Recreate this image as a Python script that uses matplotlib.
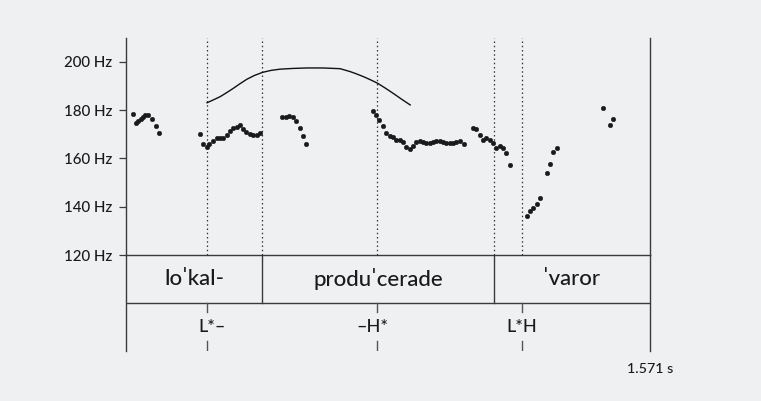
import matplotlib
matplotlib.use("Agg")
import matplotlib.pyplot as plt
from matplotlib.transforms import offset_copy

# ---------------- data ----------------
f0_t = [0.020, 0.030, 0.037, 0.045, 0.051, 0.058, 0.067, 0.078, 0.090, 0.100,
        0.222, 0.232, 0.242, 0.250, 0.262, 0.272, 0.282, 0.292, 0.302, 0.312,
        0.322, 0.332, 0.342, 0.350, 0.360, 0.372, 0.382, 0.392, 0.402,
        0.468, 0.479, 0.490, 0.501, 0.511, 0.521, 0.531, 0.540,
        0.740, 0.750, 0.760, 0.770, 0.780, 0.790, 0.800, 0.810, 0.820, 0.830,
        0.840, 0.850, 0.860, 0.870, 0.880, 0.890, 0.900, 0.910, 0.920, 0.930,
        0.940, 0.950, 0.960, 0.970, 0.980, 0.990, 1.000, 1.012,
        1.040, 1.050, 1.060, 1.070, 1.080, 1.090, 1.100, 1.110, 1.120, 1.130,
        1.140, 1.150,
        1.201, 1.211, 1.221, 1.232, 1.240, 1.261, 1.271, 1.281, 1.291,
        1.430, 1.451, 1.461]
f0_hz = [178.4, 174.8, 175.3, 176.2, 177.1, 177.9, 177.9, 176.3, 173.4, 170.6,
         170.1, 165.8, 164.8, 165.8, 167.2, 168.3, 168.5, 168.5, 169.7, 171.3,
         172.4, 173.1, 173.8, 172.1, 171.0, 170.1, 169.7, 169.7, 170.4,
         177.2, 177.1, 177.7, 177.1, 175.5, 172.7, 169.2, 166.1,
         179.7, 177.8, 175.9, 173.5, 170.5, 169.2, 169.0, 167.5, 167.6, 166.9,
         164.8, 163.7, 165.1, 166.9, 167.3, 166.8, 166.2, 166.2, 166.8, 167.3,
         167.1, 166.6, 166.5, 166.2, 166.5, 166.8, 167.1, 166.1,
         172.4, 172.2, 169.6, 167.4, 168.3, 167.6, 166.2, 164.4, 165.3, 164.1,
         162.1, 157.4,
         136.3, 138.2, 139.4, 140.9, 143.7, 153.8, 157.5, 162.5, 164.1,
         180.8, 173.7, 176.4]

contour_t = [0.243, 0.262, 0.282, 0.302, 0.322, 0.342, 0.362, 0.385, 0.410,
             0.435, 0.462, 0.500, 0.542, 0.590, 0.642, 0.672, 0.692, 0.712,
             0.733, 0.754, 0.777, 0.801, 0.826, 0.852]
contour_hz = [183.0, 184.2, 185.5, 187.2, 189.0, 190.9, 192.7, 194.3, 195.6,
              196.4, 196.9, 197.2, 197.4, 197.4, 197.1, 195.9, 194.9, 193.8,
              192.5, 191.1, 189.1, 186.9, 184.5, 182.1]

word_labels = ["lo\u02c8kal-", "produ\u02c8cerade", "\u02c8varor"]
word_bounds = [0.0, 0.409, 1.103, 1.571]

tone_labels = ["L*\u2013", "\u2013H*", "L*H"]
tone_times = [0.243, 0.754, 1.187]

yticks = [120, 140, 160, 180, 200]
ytick_labels = ["120 Hz", "140 Hz", "160 Hz", "180 Hz", "200 Hz"]
t_end = 1.571
y_min, y_max = 120, 209.8

# ---------------- style ----------------
BG = "#eff0f2"
INK = "#1a1a1a"
LINE = "#3a3a3a"
FONT = ["Lato", "DejaVu Sans"]
plt.rcParams["font.family"] = FONT

W, H = 761, 401
fig = plt.figure(figsize=(W / 100, H / 100), dpi=100, facecolor=BG)

x0, x1 = 126, 650
yp_top, yp_bot = 38, 255
yt_bot = 350.5

ax = fig.add_axes([x0 / W, (H - yp_bot) / H, (x1 - x0) / W, (yp_bot - yp_top) / H])
ax.set_facecolor(BG)
ax.set_xlim(0, t_end)
ax.set_ylim(y_min, y_max)
ax.spines["top"].set_visible(False)
for s in ["left", "right", "bottom"]:
    ax.spines[s].set_color(LINE)
    ax.spines[s].set_linewidth(1.0)
ax.set_xticks([])
ax.set_yticks(yticks)
ax.set_yticklabels(ytick_labels, fontsize=10.8, color=INK, fontweight="medium")
ax.tick_params(axis="y", direction="out", length=5, width=0.9, color=LINE, pad=5)

# dotted lines at boundaries and tones
for tv in sorted(set(word_bounds[1:-1] + tone_times)):
    ax.axvline(tv, color="#333333", lw=0.9, ls=(0, (1.2, 2.2)), zorder=1)

ax.plot(contour_t, contour_hz, color="#111111", lw=1.0, zorder=3)
ax.plot(f0_t, f0_hz, ls="none", marker="o", ms=3.3, mfc=INK, mec=INK, mew=0.3, zorder=4)

# ---------------- tiers ----------------
tx = fig.add_axes([x0 / W, (H - yt_bot) / H, (x1 - x0) / W, (yt_bot - yp_bot) / H])
tx.patch.set_alpha(0)
tx.set_xlim(0, t_end)
tx.set_ylim(0, 1)
tx.set_xticks([])
tx.set_yticks([])
tx.spines["top"].set_visible(False)
tx.spines["bottom"].set_visible(False)
for s in ["left", "right"]:
    tx.spines[s].set_color(LINE)
    tx.spines[s].set_linewidth(1.0)

tx.axhline(0.495, color=LINE, lw=1.0)
for b in word_bounds[1:-1]:
    tx.plot([b, b], [0.495, 1.0], color=LINE, lw=1.0)
for i, lab in enumerate(word_labels):
    cx = (word_bounds[i] + word_bounds[i + 1]) / 2
    tx.text(cx, 0.75, lab, ha="center", va="center", fontsize=16, color=INK,
            fontweight="medium")

shifts = [3.3, -3.4, 0.0]
for tv, lab, sh in zip(tone_times, tone_labels, shifts):
    tx.plot([tv, tv], [0.495, 0.40], color="#555555", lw=1.0)
    tx.plot([tv, tv], [0.095, 0.0], color="#555555", lw=1.0)
    tr = offset_copy(tx.transData, fig=fig, x=sh, y=0, units="points")
    tx.text(tv, 0.25, lab, ha="center", va="center", fontsize=13, color=INK,
            fontweight="medium", transform=tr)

fig.text(x1 / W, (H - 369) / H, f"{t_end} s", ha="center", va="center",
         fontsize=10.3, color=INK, fontweight="medium")

fig.savefig("out.png", dpi=100, facecolor=BG)
